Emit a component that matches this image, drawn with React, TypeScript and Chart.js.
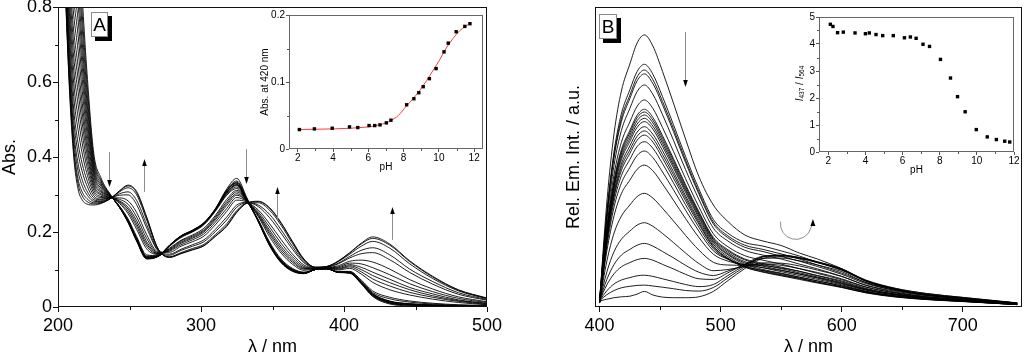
import React, { useEffect, useRef } from "react";
import { Chart, registerables } from "chart.js";

Chart.register(...registerables);

const FONT = '"Liberation Sans", Arial, Helvetica, sans-serif';

// ---------------- Panel A : absorption spectra (λ / nm vs Abs.) ----------------
const absWavelengths = [205, 208, 211, 214, 217, 220, 225, 230, 237, 243, 249, 255, 262, 270, 278, 286, 294, 302, 310, 318, 325, 332, 340, 348, 356, 364, 372, 380, 388, 396, 404, 412, 420, 432, 446, 462, 480, 500];

const absSpectra = [
  [1.3, 1.2, 1.1, 1.0, 0.82, 0.64, 0.41, 0.345, 0.298, 0.265, 0.225, 0.175, 0.128, 0.135, 0.165, 0.19, 0.205, 0.225, 0.262, 0.315, 0.343, 0.292, 0.228, 0.163, 0.118, 0.095, 0.089, 0.1, 0.102, 0.092, 0.09, 0.062, 0.028, 0.008, 0.003, 0.002, 0.001, 0.0],
  [1.264, 1.15, 1.044, 0.945, 0.777, 0.611, 0.399, 0.339, 0.297, 0.266, 0.226, 0.177, 0.129, 0.135, 0.165, 0.189, 0.204, 0.224, 0.261, 0.312, 0.336, 0.29, 0.229, 0.164, 0.119, 0.096, 0.089, 0.1, 0.102, 0.092, 0.091, 0.063, 0.03, 0.01, 0.005, 0.003, 0.002, 0.001],
  [1.232, 1.107, 0.995, 0.897, 0.74, 0.585, 0.389, 0.335, 0.297, 0.266, 0.227, 0.178, 0.13, 0.135, 0.164, 0.189, 0.204, 0.224, 0.26, 0.31, 0.333, 0.288, 0.229, 0.165, 0.12, 0.097, 0.09, 0.1, 0.102, 0.093, 0.091, 0.064, 0.031, 0.011, 0.005, 0.003, 0.002, 0.001],
  [1.201, 1.064, 0.946, 0.849, 0.702, 0.56, 0.38, 0.33, 0.296, 0.266, 0.228, 0.179, 0.131, 0.136, 0.164, 0.189, 0.203, 0.223, 0.26, 0.309, 0.331, 0.287, 0.23, 0.166, 0.121, 0.097, 0.09, 0.1, 0.102, 0.093, 0.092, 0.065, 0.033, 0.013, 0.007, 0.004, 0.002, 0.001],
  [1.174, 1.026, 0.904, 0.808, 0.67, 0.538, 0.371, 0.326, 0.296, 0.266, 0.228, 0.178, 0.131, 0.135, 0.164, 0.189, 0.204, 0.223, 0.26, 0.31, 0.33, 0.287, 0.229, 0.166, 0.121, 0.097, 0.09, 0.1, 0.102, 0.093, 0.091, 0.065, 0.032, 0.012, 0.006, 0.004, 0.002, 0.001],
  [1.147, 0.989, 0.862, 0.767, 0.638, 0.516, 0.363, 0.322, 0.295, 0.267, 0.229, 0.181, 0.133, 0.136, 0.164, 0.188, 0.203, 0.222, 0.259, 0.306, 0.327, 0.285, 0.23, 0.167, 0.123, 0.099, 0.091, 0.1, 0.102, 0.093, 0.092, 0.067, 0.035, 0.015, 0.008, 0.005, 0.003, 0.001],
  [1.12, 0.952, 0.82, 0.726, 0.606, 0.494, 0.355, 0.317, 0.295, 0.267, 0.229, 0.181, 0.133, 0.136, 0.164, 0.188, 0.203, 0.222, 0.259, 0.305, 0.326, 0.285, 0.23, 0.167, 0.123, 0.099, 0.091, 0.1, 0.102, 0.093, 0.092, 0.067, 0.035, 0.015, 0.008, 0.005, 0.003, 0.001],
  [1.093, 0.915, 0.778, 0.685, 0.574, 0.472, 0.347, 0.313, 0.294, 0.267, 0.23, 0.182, 0.134, 0.136, 0.163, 0.188, 0.202, 0.222, 0.258, 0.303, 0.324, 0.284, 0.231, 0.168, 0.123, 0.099, 0.091, 0.1, 0.102, 0.094, 0.093, 0.067, 0.036, 0.016, 0.009, 0.006, 0.003, 0.002],
  [1.066, 0.878, 0.736, 0.644, 0.542, 0.45, 0.338, 0.309, 0.294, 0.268, 0.232, 0.184, 0.136, 0.136, 0.163, 0.187, 0.201, 0.221, 0.257, 0.3, 0.32, 0.283, 0.232, 0.17, 0.125, 0.101, 0.092, 0.1, 0.102, 0.094, 0.094, 0.07, 0.039, 0.022, 0.013, 0.008, 0.005, 0.003],
  [1.043, 0.847, 0.701, 0.61, 0.515, 0.432, 0.331, 0.306, 0.293, 0.269, 0.235, 0.188, 0.139, 0.137, 0.162, 0.185, 0.2, 0.219, 0.255, 0.298, 0.316, 0.282, 0.233, 0.173, 0.128, 0.103, 0.093, 0.1, 0.102, 0.095, 0.095, 0.072, 0.043, 0.026, 0.016, 0.01, 0.006, 0.004],
  [1.021, 0.816, 0.666, 0.575, 0.488, 0.414, 0.324, 0.302, 0.293, 0.276, 0.249, 0.207, 0.155, 0.14, 0.157, 0.178, 0.192, 0.21, 0.244, 0.287, 0.311, 0.283, 0.241, 0.187, 0.144, 0.114, 0.098, 0.101, 0.103, 0.099, 0.103, 0.088, 0.066, 0.046, 0.032, 0.021, 0.012, 0.006],
  [0.998, 0.785, 0.631, 0.541, 0.462, 0.395, 0.318, 0.299, 0.292, 0.279, 0.255, 0.215, 0.162, 0.141, 0.155, 0.176, 0.189, 0.206, 0.24, 0.281, 0.307, 0.283, 0.244, 0.194, 0.15, 0.119, 0.101, 0.102, 0.104, 0.101, 0.107, 0.094, 0.075, 0.056, 0.039, 0.026, 0.015, 0.007],
  [0.976, 0.754, 0.596, 0.507, 0.435, 0.377, 0.311, 0.295, 0.292, 0.281, 0.261, 0.222, 0.168, 0.142, 0.153, 0.173, 0.186, 0.203, 0.236, 0.276, 0.302, 0.282, 0.247, 0.199, 0.156, 0.123, 0.103, 0.102, 0.104, 0.103, 0.11, 0.1, 0.084, 0.065, 0.046, 0.03, 0.017, 0.009],
  [0.953, 0.723, 0.561, 0.473, 0.408, 0.359, 0.304, 0.292, 0.291, 0.283, 0.266, 0.23, 0.174, 0.143, 0.151, 0.17, 0.183, 0.2, 0.232, 0.271, 0.298, 0.282, 0.25, 0.205, 0.162, 0.128, 0.105, 0.102, 0.104, 0.105, 0.113, 0.106, 0.093, 0.074, 0.052, 0.035, 0.019, 0.01],
  [0.931, 0.692, 0.526, 0.438, 0.381, 0.341, 0.297, 0.288, 0.291, 0.287, 0.274, 0.24, 0.183, 0.145, 0.149, 0.166, 0.179, 0.195, 0.226, 0.263, 0.292, 0.281, 0.254, 0.213, 0.17, 0.134, 0.108, 0.103, 0.105, 0.107, 0.117, 0.115, 0.105, 0.086, 0.062, 0.041, 0.023, 0.012],
  [0.913, 0.667, 0.498, 0.411, 0.36, 0.326, 0.291, 0.286, 0.291, 0.291, 0.283, 0.252, 0.193, 0.147, 0.146, 0.162, 0.174, 0.189, 0.219, 0.255, 0.285, 0.28, 0.259, 0.222, 0.18, 0.141, 0.112, 0.103, 0.105, 0.11, 0.122, 0.125, 0.12, 0.101, 0.073, 0.048, 0.027, 0.014],
  [0.895, 0.642, 0.47, 0.383, 0.338, 0.311, 0.286, 0.283, 0.291, 0.298, 0.299, 0.273, 0.211, 0.15, 0.141, 0.154, 0.166, 0.179, 0.207, 0.24, 0.272, 0.279, 0.268, 0.238, 0.197, 0.154, 0.118, 0.104, 0.106, 0.115, 0.131, 0.142, 0.145, 0.126, 0.092, 0.061, 0.034, 0.018],
  [0.881, 0.623, 0.449, 0.363, 0.322, 0.301, 0.282, 0.281, 0.29, 0.302, 0.307, 0.284, 0.22, 0.151, 0.138, 0.151, 0.162, 0.174, 0.201, 0.232, 0.266, 0.278, 0.272, 0.247, 0.206, 0.161, 0.121, 0.105, 0.107, 0.117, 0.135, 0.151, 0.158, 0.139, 0.101, 0.068, 0.038, 0.02],
  [0.868, 0.605, 0.428, 0.342, 0.306, 0.29, 0.278, 0.279, 0.29, 0.307, 0.318, 0.299, 0.232, 0.154, 0.134, 0.145, 0.156, 0.167, 0.193, 0.222, 0.257, 0.277, 0.278, 0.258, 0.218, 0.169, 0.125, 0.106, 0.108, 0.121, 0.141, 0.162, 0.175, 0.157, 0.115, 0.076, 0.043, 0.022],
  [0.859, 0.592, 0.414, 0.329, 0.296, 0.282, 0.275, 0.277, 0.29, 0.309, 0.323, 0.305, 0.238, 0.155, 0.133, 0.143, 0.153, 0.164, 0.189, 0.217, 0.254, 0.277, 0.281, 0.263, 0.223, 0.173, 0.127, 0.106, 0.108, 0.122, 0.144, 0.168, 0.183, 0.165, 0.121, 0.08, 0.045, 0.023],
  [0.85, 0.58, 0.4, 0.315, 0.285, 0.275, 0.272, 0.276, 0.29, 0.31, 0.325, 0.308, 0.24, 0.155, 0.132, 0.142, 0.152, 0.163, 0.188, 0.215, 0.252, 0.277, 0.282, 0.265, 0.225, 0.175, 0.128, 0.106, 0.108, 0.123, 0.145, 0.17, 0.187, 0.168, 0.123, 0.082, 0.046, 0.024],
];

const absMinorX = [250, 350, 450];
const absMinorY = [0.1, 0.3, 0.5, 0.7];

// Inset A : Abs. at 420 nm vs pH
const insetApH = [2.09, 2.94, 3.95, 4.93, 5.4, 6.04, 6.36, 6.66, 7.02, 7.28, 8.17, 8.58, 8.86, 9.11, 9.46, 9.84, 10.29, 10.53, 10.98, 11.47, 11.76];
const insetAAbs = [0.029, 0.03, 0.031, 0.033, 0.032, 0.035, 0.035, 0.036, 0.039, 0.043, 0.066, 0.075, 0.084, 0.093, 0.105, 0.12, 0.145, 0.158, 0.175, 0.183, 0.187];
const insetAFitPH = [2.0, 3.0, 4.0, 5.0, 5.5, 6.0, 6.6, 7.0, 7.3, 7.7, 8.15, 8.5, 8.9, 9.3, 9.66, 10.0, 10.4, 10.8, 11.2, 11.5, 11.8];
const insetAFitAbs = [0.029, 0.0295, 0.03, 0.031, 0.032, 0.033, 0.036, 0.039, 0.043, 0.05, 0.064, 0.074, 0.087, 0.102, 0.117, 0.131, 0.15, 0.165, 0.177, 0.183, 0.188];
const insetAMinorX = [3, 5, 7, 9, 11];
const insetAMinorY = [0.05, 0.15];

// ---------------- Panel B : emission spectra ----------------
const emWavelengths = [400, 406, 412, 418, 425, 431, 437, 444, 452, 461, 471, 482, 494, 506, 520, 535, 550, 565, 580, 600, 620, 645, 670, 700, 745];

const emSpectra = [
  [2, 35, 58, 72, 81, 88, 90.7, 87, 78.5, 68, 56, 43.5, 34, 28.5, 24, 22, 20.5, 18, 16, 12.8, 9, 6.2, 4.5, 3.2, 1.3],
  [2.4, 31.6, 52.0, 64.4, 72.4, 78.5, 80.9, 77.6, 70.1, 60.8, 50.2, 39.4, 29.2, 24.6, 21.5, 20.3, 18.7, 17.0, 14.9, 12.2, 8.8, 6.1, 4.5, 3.2, 1.4],
  [2.2, 30.9, 50.8, 62.9, 70.6, 76.7, 79.0, 75.8, 68.5, 59.5, 49.0, 38.4, 28.3, 23.7, 20.6, 19.2, 17.7, 16.0, 14.0, 11.3, 8.2, 5.8, 4.2, 3.0, 1.3],
  [2.1, 30.3, 49.9, 61.8, 69.5, 75.4, 77.7, 74.5, 67.4, 58.5, 48.2, 37.7, 27.7, 23.1, 19.9, 18.5, 16.9, 15.3, 13.5, 10.9, 7.8, 5.5, 4.1, 2.9, 1.3],
  [2.0, 28.8, 47.4, 58.8, 66.2, 71.8, 74.0, 70.9, 64.1, 55.6, 45.8, 35.9, 26.3, 22.0, 18.9, 17.3, 16.0, 14.3, 12.7, 10.2, 7.3, 5.2, 3.8, 2.8, 1.2],
  [1.8, 26.8, 44.3, 54.9, 61.7, 66.9, 69.0, 66.2, 59.8, 51.9, 42.8, 33.4, 24.4, 20.1, 17.1, 15.6, 14.3, 12.8, 11.2, 9.1, 6.6, 4.7, 3.4, 2.5, 1.1],
  [1.6, 25.6, 42.3, 52.4, 58.9, 63.9, 65.9, 63.2, 57.1, 49.5, 40.8, 31.8, 23.2, 19.1, 16.0, 14.5, 13.3, 11.9, 10.4, 8.4, 6.0, 4.3, 3.2, 2.3, 1.0],
  [1.6, 25.3, 41.6, 51.7, 58.1, 63.1, 65.0, 62.3, 56.3, 48.8, 40.2, 31.4, 22.8, 18.7, 15.7, 14.1, 12.8, 11.4, 10.0, 8.1, 5.9, 4.2, 3.1, 2.2, 0.9],
  [1.6, 24.8, 40.9, 50.9, 57.2, 62.1, 64.0, 61.4, 55.4, 48.0, 39.5, 30.9, 22.4, 18.2, 15.1, 13.6, 12.3, 11.0, 9.6, 7.7, 5.6, 4.0, 2.9, 2.1, 0.9],
  [1.5, 24.4, 40.3, 50.0, 56.2, 61.0, 62.9, 60.3, 54.5, 47.2, 38.9, 30.3, 21.9, 17.7, 14.7, 13.1, 11.8, 10.5, 9.2, 7.4, 5.3, 3.7, 2.8, 2.1, 0.9],
  [1.5, 23.9, 39.5, 49.1, 55.2, 59.9, 61.8, 59.3, 53.5, 46.4, 38.2, 29.7, 21.5, 17.4, 14.2, 12.5, 11.3, 10.0, 8.7, 7.0, 5.1, 3.6, 2.7, 2.0, 0.8],
  [1.4, 23.3, 38.4, 47.7, 53.7, 58.3, 60.1, 57.6, 52.1, 45.1, 37.1, 28.9, 20.9, 16.8, 13.7, 12.1, 10.8, 9.6, 8.3, 6.7, 4.9, 3.5, 2.6, 1.9, 0.8],
  [1.3, 22.7, 37.5, 46.6, 52.4, 56.9, 58.7, 56.3, 50.8, 44.1, 36.3, 28.2, 20.3, 16.3, 13.3, 11.6, 10.4, 9.2, 8.0, 6.5, 4.7, 3.3, 2.5, 1.9, 0.8],
  [1.4, 22.1, 36.7, 45.5, 51.2, 55.6, 57.3, 55.0, 49.6, 43.0, 35.4, 27.6, 20.0, 16.1, 13.3, 11.8, 10.6, 9.5, 8.2, 6.6, 4.8, 3.4, 2.5, 1.8, 0.8],
  [1.4, 21.5, 35.3, 43.8, 49.2, 53.5, 55.1, 52.9, 47.8, 41.4, 34.1, 26.6, 19.4, 16.0, 13.5, 12.2, 11.1, 9.9, 8.7, 7.1, 5.1, 3.6, 2.6, 1.9, 0.8],
  [1.5, 20.3, 33.4, 41.3, 46.5, 50.5, 52.0, 49.8, 45.0, 39.1, 32.3, 25.3, 18.7, 15.9, 14.0, 13.1, 12.2, 11.0, 9.8, 7.9, 5.7, 4.0, 2.9, 2.1, 0.9],
  [1.6, 18.7, 30.5, 37.8, 42.3, 45.9, 47.3, 45.4, 41.0, 35.6, 29.5, 23.2, 17.6, 15.3, 14.1, 13.8, 13.0, 11.9, 10.5, 8.7, 6.2, 4.2, 3.1, 2.2, 1.0],
  [1.7, 15.3, 24.7, 30.3, 34.0, 36.8, 37.9, 36.3, 32.9, 28.7, 23.9, 19.0, 14.9, 14.0, 13.9, 14.3, 13.9, 12.8, 11.5, 9.4, 6.7, 4.6, 3.3, 2.4, 1.0],
  [1.8, 11.7, 18.5, 22.6, 25.3, 27.3, 28.1, 26.9, 24.5, 21.5, 18.0, 14.5, 12.1, 12.5, 13.5, 14.7, 14.6, 13.7, 12.3, 10.2, 7.2, 4.9, 3.5, 2.5, 1.0],
  [2.0, 9.2, 14.2, 17.3, 19.2, 20.6, 21.2, 20.3, 18.5, 16.4, 13.9, 11.6, 10.5, 12.0, 14.1, 16.2, 16.3, 15.4, 14.0, 11.8, 8.1, 5.5, 3.9, 2.8, 1.1],
  [2.1, 7.4, 11.1, 13.4, 14.8, 15.8, 16.2, 15.6, 14.2, 12.7, 10.9, 9.4, 9.2, 11.4, 14.3, 16.9, 17.1, 16.3, 14.8, 12.4, 8.6, 5.8, 4.0, 2.9, 1.3],
  [2.1, 5.4, 7.7, 9.0, 9.8, 10.4, 10.6, 10.2, 9.4, 8.5, 7.5, 6.8, 7.5, 10.5, 13.9, 16.8, 17.3, 16.5, 15.1, 12.7, 8.8, 5.9, 4.1, 2.9, 1.2],
  [2.1, 4.1, 5.5, 6.4, 6.9, 7.2, 7.3, 7.0, 6.6, 6.1, 5.5, 5.3, 6.5, 9.7, 13.4, 16.7, 17.2, 16.5, 15.0, 12.7, 8.7, 5.9, 4.1, 2.8, 1.3],
  [2.0, 2.6, 3.1, 3.4, 3.6, 4.3, 5.2, 4.0, 3.3, 3.1, 3.1, 3.4, 5.2, 8.8, 12.8, 16.2, 16.8, 16.2, 14.8, 12.5, 8.6, 5.8, 4.0, 2.8, 1.2],
];

const emMinorX = [450, 550, 650];

// Inset B : I437 / I564 vs pH
const insetBpH = [2.11, 2.25, 2.5, 2.81, 3.44, 4.0, 4.21, 4.57, 4.93, 5.5, 6.1, 6.42, 6.73, 7.1, 7.45, 8.04, 8.58, 8.96, 9.37, 9.97, 10.56, 11.05, 11.5, 11.77];
const insetBRatio = [4.73, 4.65, 4.42, 4.44, 4.41, 4.38, 4.41, 4.35, 4.31, 4.31, 4.23, 4.26, 4.21, 3.99, 3.91, 3.43, 2.74, 2.05, 1.49, 0.83, 0.56, 0.46, 0.4, 0.37];
const insetBMinorX = [3, 5, 7, 9, 11];
const insetBMinorY = [0.5, 1.5, 2.5, 3.5, 4.5];

// annotation arrows (data coordinates)
const arrowsA = [
  { x: 235.7, from: 0.413, to: 0.32 },
  { x: 260, from: 0.307, to: 0.395 },
  { x: 331.5, from: 0.421, to: 0.328 },
  { x: 353, from: 0.232, to: 0.32 },
  { x: 433.6, from: 0.179, to: 0.267 },
];
const arrowsB = [{ x: 470.4, from: 91.7, to: 73.3 }];
const curvedArrowB = { x: 562.2, y: 27.7 };

// ---------------- helpers ----------------
function zeroPad(s: any) {
  s.paddingLeft = 0;
  s.paddingRight = 0;
  s.paddingTop = 0;
  s.paddingBottom = 0;
}

function lineSets(xs: number[], curves: number[][]) {
  return curves.map((c) => ({
    data: xs.map((x, i) => ({ x, y: c[i] })),
    borderColor: "rgba(0,0,0,0.88)",
    borderWidth: 1,
    pointRadius: 0,
    cubicInterpolationMode: "monotone",
    fill: false,
  }));
}

function drawFrame(chart: any, color: string) {
  const { left, top, right, bottom } = chart.chartArea;
  const ctx = chart.ctx;
  ctx.strokeStyle = color;
  ctx.lineWidth = 1;
  const l = Math.round(left) + 0.5;
  const t = Math.round(top) + 0.5;
  const r = Math.round(right) - 0.5;
  const b = Math.round(bottom) - 0.5;
  ctx.strokeRect(l, t, r - l, b - t);
}

function drawMinor(chart: any, axis: "x" | "y", values: number[], len: number, color: string) {
  const s = chart.scales[axis];
  const a = chart.chartArea;
  const ctx = chart.ctx;
  ctx.strokeStyle = color;
  ctx.lineWidth = 1;
  ctx.beginPath();
  values.forEach((v) => {
    if (axis === "x") {
      const px = Math.round(s.getPixelForValue(v)) + 0.5;
      ctx.moveTo(px, Math.round(a.bottom));
      ctx.lineTo(px, Math.round(a.bottom) + len);
    } else {
      const py = Math.round(s.getPixelForValue(v)) + 0.5;
      ctx.moveTo(Math.round(a.left), py);
      ctx.lineTo(Math.round(a.left) - len, py);
    }
  });
  ctx.stroke();
}

function drawArrow(ctx: CanvasRenderingContext2D, x: number, y1: number, y2: number) {
  const dir = Math.sign(y2 - y1);
  const headLen = 7;
  const half = 2.3;
  const px = Math.round(x) + 0.5;
  ctx.strokeStyle = "#8c8c8c";
  ctx.lineWidth = 1;
  ctx.beginPath();
  ctx.moveTo(px, y1);
  ctx.lineTo(px, y2 - dir * headLen * 0.6);
  ctx.stroke();
  ctx.fillStyle = "#000";
  ctx.beginPath();
  ctx.moveTo(px, y2);
  ctx.lineTo(px - half, y2 - dir * headLen);
  ctx.lineTo(px + half, y2 - dir * headLen);
  ctx.closePath();
  ctx.fill();
}

function drawLabelBox(ctx: CanvasRenderingContext2D, x: number, y: number, w: number, h: number, text: string) {
  ctx.fillStyle = "#000";
  ctx.fillRect(x + 4, y + 4, w, h);
  ctx.fillStyle = "#fff";
  ctx.fillRect(x, y, w, h);
  ctx.strokeStyle = "#8a8a8a";
  ctx.lineWidth = 1;
  ctx.strokeRect(x + 0.5, y + 0.5, w - 1, h - 1);
  ctx.fillStyle = "#000";
  ctx.font = `19px ${FONT}`;
  ctx.textAlign = "center";
  ctx.textBaseline = "middle";
  ctx.fillText(text, x + w / 2, y + h / 2 + 1);
}

function drawRatioTitle(ctx: CanvasRenderingContext2D, cx: number, cy: number) {
  const parts = [
    { t: "I", f: `italic 10px ${FONT}`, dy: 0 },
    { t: "437", f: `6.5px ${FONT}`, dy: 2.5 },
    { t: " / ", f: `10px ${FONT}`, dy: 0 },
    { t: "I", f: `italic 10px ${FONT}`, dy: 0 },
    { t: "564", f: `6.5px ${FONT}`, dy: 2.5 },
  ];
  ctx.save();
  ctx.translate(cx, cy);
  ctx.rotate(-Math.PI / 2);
  ctx.textAlign = "left";
  ctx.textBaseline = "middle";
  ctx.fillStyle = "#000";
  let total = 0;
  const widths = parts.map((p) => {
    ctx.font = p.f;
    const w = ctx.measureText(p.t).width;
    total += w;
    return w;
  });
  let x = -total / 2;
  parts.forEach((p, i) => {
    ctx.font = p.f;
    ctx.fillText(p.t, x, p.dy);
    x += widths[i];
  });
  ctx.restore();
}

const baseOptions = {
  animation: false,
  responsive: false,
  devicePixelRatio: 1,
  events: [],
  plugins: { legend: { display: false }, tooltip: { enabled: false } },
};

const bigFont = { family: FONT, size: 18 };
const smallFont = { family: FONT, size: 10 };

// ---------------- configs ----------------
function configA(): any {
  return {
    type: "line",
    data: { datasets: lineSets(absWavelengths, absSpectra) },
    options: {
      ...baseOptions,
      layout: { padding: { top: 7, right: 25, bottom: 0, left: 0 } },
      scales: {
        x: {
          type: "linear",
          min: 200,
          max: 500,
          afterFit: (s: any) => { s.height = 49; zeroPad(s); },
          ticks: { stepSize: 100, color: "#000", font: bigFont, padding: 3, maxRotation: 0, autoSkip: false, includeBounds: false },
          grid: { drawOnChartArea: false, drawTicks: true, tickLength: 5, tickColor: "#111", tickWidth: 1 },
          border: { display: false },
          title: { display: true, text: "λ / nm", color: "#000", font: { ...bigFont, lineHeight: 1 }, padding: 0 },
        },
        y: {
          type: "linear",
          min: 0,
          max: 0.8,
          afterFit: (s: any) => { s.width = 58; zeroPad(s); },
          ticks: {
            stepSize: 0.2,
            color: "#000",
            font: bigFont,
            padding: 1,
            includeBounds: false,
            callback: (v: any) => (Math.abs(v) < 1e-9 ? "0" : Number(v).toFixed(1)),
          },
          grid: { drawOnChartArea: false, drawTicks: true, tickLength: 5, tickColor: "#111", tickWidth: 1 },
          border: { display: false },
          title: { display: true, text: "Abs.", color: "#000", font: { ...bigFont, lineHeight: 1 }, padding: { top: 1, bottom: 0 } },
        },
      },
    },
    plugins: [
      {
        id: "decorA",
        afterDraw(chart: any) {
          const ctx = chart.ctx;
          ctx.save();
          drawFrame(chart, "#111");
          drawMinor(chart, "x", absMinorX, 3, "#111");
          drawMinor(chart, "y", absMinorY, 3, "#111");
          const xs = chart.scales.x;
          const ys = chart.scales.y;
          arrowsA.forEach((a) => drawArrow(ctx, xs.getPixelForValue(a.x), ys.getPixelForValue(a.from), ys.getPixelForValue(a.to)));
          drawLabelBox(ctx, 91, 12, 17, 25, "A");
          ctx.restore();
        },
      },
    ],
  };
}

function configB(): any {
  return {
    type: "line",
    data: { datasets: lineSets(emWavelengths, emSpectra) },
    options: {
      ...baseOptions,
      layout: { padding: { top: 7, right: 2, bottom: 0, left: 0 } },
      scales: {
        x: {
          type: "linear",
          min: 396.2,
          max: 749,
          afterFit: (s: any) => { s.height = 49; zeroPad(s); },
          ticks: { stepSize: 100, color: "#000", font: bigFont, padding: 3, maxRotation: 0, autoSkip: false, includeBounds: false },
          grid: { drawOnChartArea: false, drawTicks: true, tickLength: 5, tickColor: "#111", tickWidth: 1 },
          border: { display: false },
          title: { display: true, text: "λ / nm", color: "#000", font: { ...bigFont, lineHeight: 1 }, padding: 0 },
        },
        y: {
          type: "linear",
          min: 0,
          max: 100,
          afterFit: (s: any) => { s.width = 83; zeroPad(s); },
          ticks: { display: false },
          grid: { display: false },
          border: { display: false },
          title: { display: true, text: "Rel. Em. Int. / a.u.", color: "#000", font: { ...bigFont, lineHeight: 1 }, padding: { top: 52.7, bottom: 0 } },
        },
      },
    },
    plugins: [
      {
        id: "decorB",
        afterDraw(chart: any) {
          const ctx = chart.ctx;
          ctx.save();
          drawFrame(chart, "#111");
          drawMinor(chart, "x", emMinorX, 3, "#111");
          const xs = chart.scales.x;
          const ys = chart.scales.y;
          arrowsB.forEach((a) => drawArrow(ctx, xs.getPixelForValue(a.x), ys.getPixelForValue(a.from), ys.getPixelForValue(a.to)));
          // curved arrow
          const cx = xs.getPixelForValue(curvedArrowB.x);
          const cy = ys.getPixelForValue(curvedArrowB.y);
          const r = 15.5;
          ctx.strokeStyle = "#8c8c8c";
          ctx.lineWidth = 1;
          ctx.beginPath();
          ctx.arc(cx, cy, r, 0.25, Math.PI + 0.15, false);
          ctx.stroke();
          ctx.beginPath();
          ctx.moveTo(cx + r * Math.cos(0.25), cy + r * Math.sin(0.25));
          ctx.lineTo(cx + r + 1, cy + 1);
          ctx.stroke();
          ctx.fillStyle = "#000";
          ctx.beginPath();
          ctx.moveTo(cx + r + 1.5, cy - 5);
          ctx.lineTo(cx + r - 1, cy + 2);
          ctx.lineTo(cx + r + 4, cy + 2);
          ctx.closePath();
          ctx.fill();
          drawLabelBox(ctx, 87, 14, 18, 25, "B");
          ctx.restore();
        },
      },
    ],
  };
}

function configInsetA(): any {
  return {
    type: "scatter",
    data: {
      datasets: [
        {
          data: insetApH.map((x, i) => ({ x, y: insetAAbs[i] })),
          pointStyle: "rect",
          pointRadius: 2.4,
          pointBackgroundColor: "#000",
          pointBorderWidth: 0,
          showLine: false,
          order: 0,
        },
        {
          data: insetAFitPH.map((x, i) => ({ x, y: insetAFitAbs[i] })),
          showLine: true,
          borderColor: "#ff3a3a",
          borderWidth: 1,
          pointRadius: 0,
          cubicInterpolationMode: "monotone",
          order: 1,
        },
      ],
    },
    options: {
      ...baseOptions,
      layout: { padding: { top: 7, right: 7, bottom: 0, left: 0 } },
      scales: {
        x: {
          type: "linear",
          min: 1.5,
          max: 12.5,
          afterFit: (s: any) => { s.height = 24; zeroPad(s); },
          ticks: { stepSize: 2, color: "#000", font: smallFont, padding: 0, maxRotation: 0, autoSkip: false, includeBounds: false },
          grid: { drawOnChartArea: false, drawTicks: true, tickLength: 3, tickColor: "#555", tickWidth: 1 },
          border: { display: false },
          title: { display: true, text: "pH", color: "#000", font: { ...smallFont, lineHeight: 1 }, padding: { top: 0, bottom: 1 } },
        },
        y: {
          type: "linear",
          min: 0,
          max: 0.2,
          afterFit: (s: any) => { s.width = 34; zeroPad(s); },
          ticks: {
            stepSize: 0.1,
            color: "#000",
            font: smallFont,
            padding: 1,
            includeBounds: false,
            callback: (v: any) => (Math.abs(v) < 1e-9 ? "0" : Number(v).toFixed(1)),
          },
          grid: { drawOnChartArea: false, drawTicks: true, tickLength: 3, tickColor: "#555", tickWidth: 1 },
          border: { display: false },
          title: { display: true, text: "Abs. at 420 nm", color: "#000", font: { ...smallFont, lineHeight: 1 }, padding: { top: 5, bottom: 0 } },
        },
      },
    },
    plugins: [
      {
        id: "decorIA",
        afterDraw(chart: any) {
          chart.ctx.save();
          drawFrame(chart, "#666");
          drawMinor(chart, "x", insetAMinorX, 2, "#555");
          drawMinor(chart, "y", insetAMinorY, 2, "#555");
          chart.ctx.restore();
        },
      },
    ],
  };
}

function configInsetB(): any {
  return {
    type: "scatter",
    data: {
      datasets: [
        {
          data: insetBpH.map((x, i) => ({ x, y: insetBRatio[i] })),
          pointStyle: "rect",
          pointRadius: 2.4,
          pointBackgroundColor: "#000",
          pointBorderWidth: 0,
          showLine: false,
        },
      ],
    },
    options: {
      ...baseOptions,
      layout: { padding: { top: 9, right: 10, bottom: 0, left: 0 } },
      scales: {
        x: {
          type: "linear",
          min: 1.5,
          max: 12,
          afterFit: (s: any) => { s.height = 26; zeroPad(s); },
          ticks: { stepSize: 2, color: "#000", font: smallFont, padding: 0, maxRotation: 0, autoSkip: false, includeBounds: false },
          grid: { drawOnChartArea: false, drawTicks: true, tickLength: 3, tickColor: "#555", tickWidth: 1 },
          border: { display: false },
          title: { display: true, text: "pH", color: "#000", font: { ...smallFont, lineHeight: 1 }, padding: { top: 0, bottom: 2.3 } },
        },
        y: {
          type: "linear",
          min: 0,
          max: 5,
          afterFit: (s: any) => { s.width = 39; zeroPad(s); },
          ticks: { stepSize: 1, color: "#000", font: smallFont, padding: 1, includeBounds: false },
          grid: { drawOnChartArea: false, drawTicks: true, tickLength: 3, tickColor: "#555", tickWidth: 1 },
          border: { display: false },
          title: { display: false },
        },
      },
    },
    plugins: [
      {
        id: "decorIB",
        afterDraw(chart: any) {
          const ctx = chart.ctx;
          ctx.save();
          drawFrame(chart, "#666");
          drawMinor(chart, "x", insetBMinorX, 2, "#555");
          drawMinor(chart, "y", insetBMinorY, 2, "#555");
          drawRatioTitle(ctx, 20, 75.5);
          ctx.restore();
        },
      },
    ],
  };
}

export default function App() {
  const aRef = useRef<HTMLCanvasElement>(null);
  const bRef = useRef<HTMLCanvasElement>(null);
  const iaRef = useRef<HTMLCanvasElement>(null);
  const ibRef = useRef<HTMLCanvasElement>(null);

  useEffect(() => {
    const charts = [
      new Chart(aRef.current as HTMLCanvasElement, configA()),
      new Chart(bRef.current as HTMLCanvasElement, configB()),
      new Chart(iaRef.current as HTMLCanvasElement, configInsetA()),
      new Chart(ibRef.current as HTMLCanvasElement, configInsetB()),
    ];
    return () => charts.forEach((c) => c.destroy());
  }, []);

  const abs = (left: number, top: number, w: number, h: number): React.CSSProperties => ({
    position: "absolute",
    left,
    top,
    width: w,
    height: h,
  });

  return (
    <div style={{ position: "absolute", left: 0, top: 0, width: 1024, height: 356, background: "#fff", overflow: "hidden" }}>
      <canvas ref={aRef} width={512} height={356} style={abs(0, 0, 512, 356)} />
      <canvas ref={bRef} width={512} height={356} style={abs(512, 0, 512, 356)} />
      <canvas ref={iaRef} width={235} height={165} style={abs(255, 8, 235, 165)} />
      <canvas ref={ibRef} width={244} height={170} style={abs(780, 8, 244, 170)} />
    </div>
  );
}
